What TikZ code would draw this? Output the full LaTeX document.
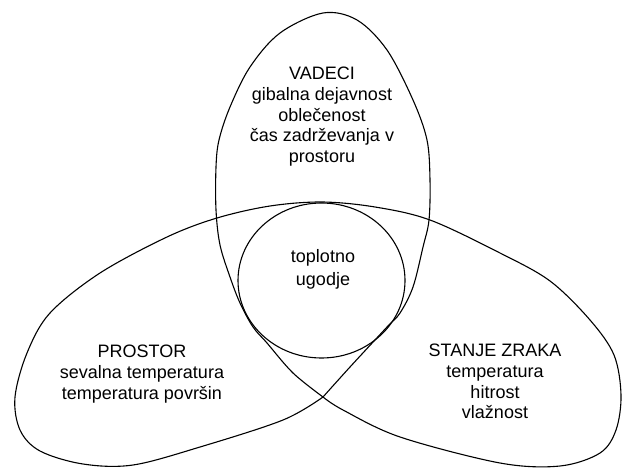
\documentclass[tikz,border=0pt]{standalone}
\usepackage{fontspec}
\setmainfont{Liberation Sans}
\begin{document}
\begin{tikzpicture}[x=1pt,y=-1pt,
  outline/.style={draw=black,line width=1.1pt,line join=round},
  label/.style={inner sep=0pt,align=center,anchor=north,font=\fontsize{18}{20.7}\selectfont}]
\useasboundingbox[fill=white] (0,0) rectangle (623,468);
% outer outline of the two lower shapes
\draw[outline] plot[smooth,tension=0.55] coordinates {(323,397) (283,420) (200,447) (133,465) (83,464) (40,451) (20,430) (15,397) (27,353) (50,313) (100,273) (167,237) (217,218) (270,206) (322,202) (375,207) (430,220) (500,253) (550,281) (590,320) (614,355) (621,395) (616,430) (600,453) (560,466) (500,463) (400,437) (343,410) (323,397)};
% upper shape
\draw[outline] plot[smooth,tension=0.55] coordinates {(323,397) (293,373) (267,343) (253,327) (240,303) (230,277) (220,245) (216,210) (216,167) (219,140) (230,107) (250,67) (280,33) (323,13) (357,20) (387,50) (413,100) (427,140) (430,180) (429,220) (423,247) (413,287) (400,313) (387,327) (350,367) (323,397)};
% centre circle
\draw[outline] (321.5,280.5) ellipse[x radius=83.5pt,y radius=77.5pt];
\node[label] (vadeci) at (322,67) {VADECI\\gibalna dejavnost\\oblečenost\\čas zadrževanja v\\prostoru};
\node[label,font=\fontsize{18}{23}\selectfont] (ugodje) at (323,249) {toplotno\\ugodje};
\node[label,font=\fontsize{18}{21}\selectfont] (prostor) at (142,345) {PROSTOR\\sevalna temperatura\\temperatura površin};
\node[label] (zrak) at (495,344) {STANJE ZRAKA\\temperatura\\hitrost\\vlažnost};
\end{tikzpicture}
\end{document}
